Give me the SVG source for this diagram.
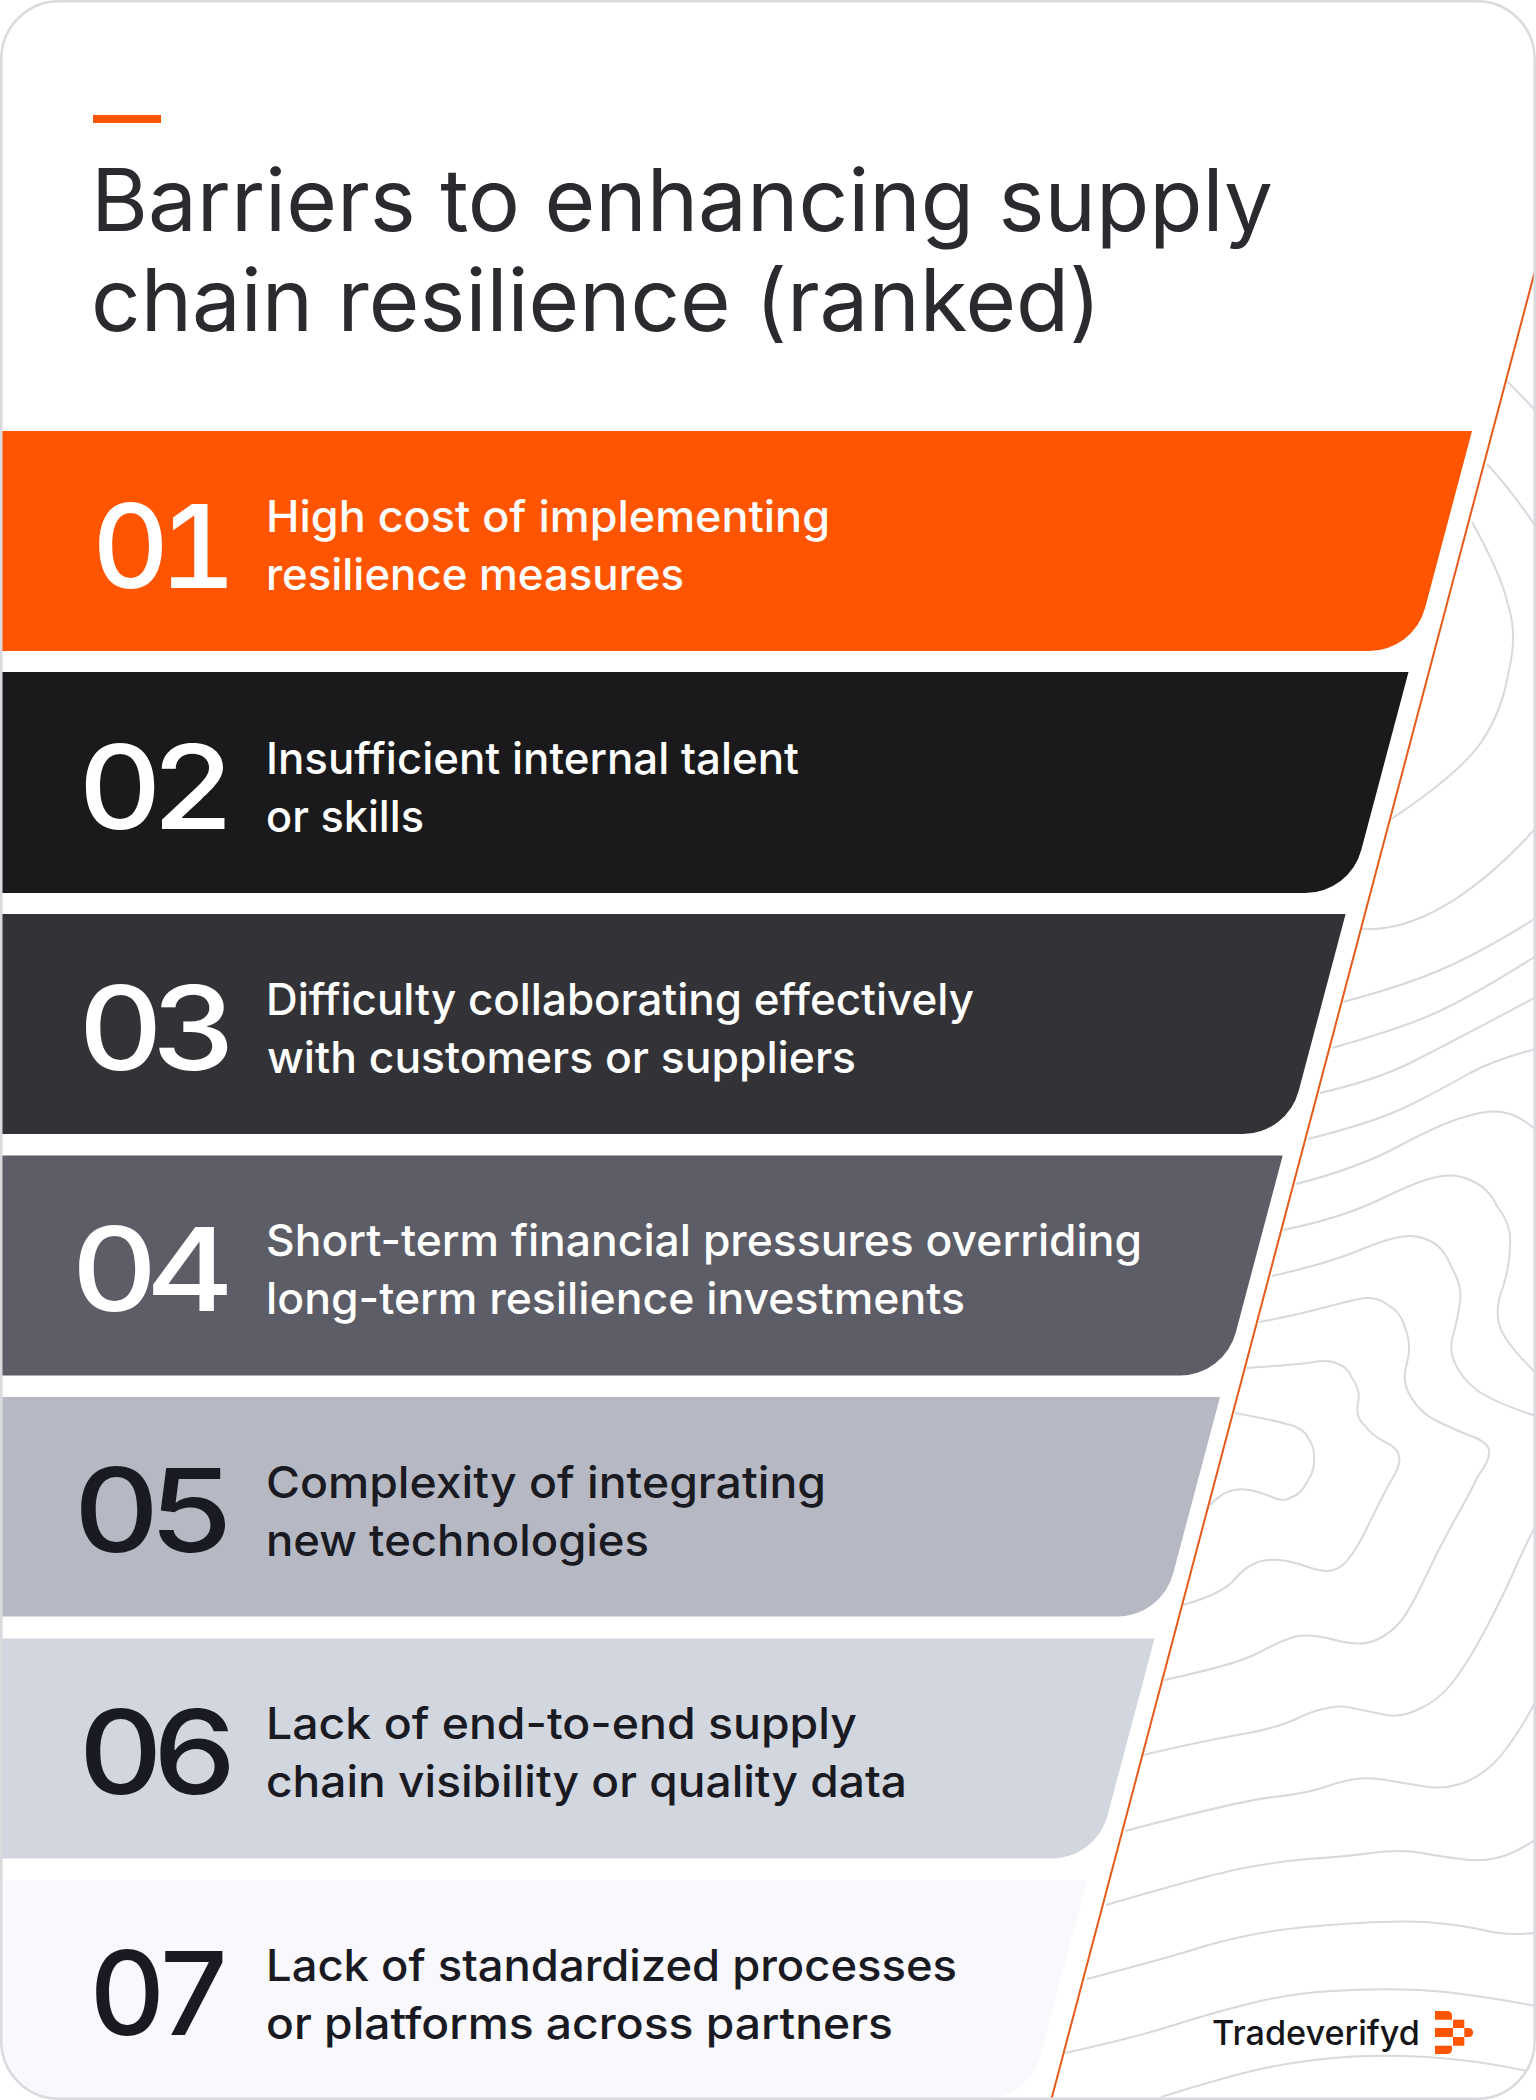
<svg xmlns="http://www.w3.org/2000/svg" width="1536" height="2100" viewBox="0 0 1536 2100">
<style>
text{font-family:Inter,"Liberation Sans",sans-serif}
.title{font-size:86px;font-weight:400;fill:#2b2a2e}
.num{font-size:116px;font-weight:450;text-anchor:end;font-feature-settings:"tnum";letter-spacing:-10px}
.body{font-size:44px;font-weight:500}
.lt{fill:#ffffff}
.dk{fill:#1a1a22}
.contour{fill:none;stroke:#d8d8de;stroke-width:2}
.logo{fill:#ff5500}
</style>
<defs>
<clipPath id="card"><rect x="1" y="1" width="1534" height="2098" rx="58" ry="58"/></clipPath>
<clipPath id="right"><polygon points="1536,267 1051.2,2100 1536,2100"/></clipPath>
</defs>
<rect x="0" y="0" width="1536" height="2100" fill="#ffffff"/>
<g clip-path="url(#card)">
<g id="contours" clip-path="url(#right)">
<path class="contour" d="M1507 381L1536 411"/>
<path class="contour" d="M1487 464Q1512 491 1536 527"/>
<path class="contour" d="M1472 522Q1502 576 1508 605Q1518 634 1508.5 672Q1502.6 710 1482 741Q1461.5 772 1391.5 819"/>
<path class="contour" d="M1362 929Q1440 933 1536 828"/>
<path class="contour" d="M1343 1002Q1410 984 1447 967Q1485 950 1536 918"/>
<path class="contour" d="M1332 1048Q1410 1026 1444 1009Q1479 992 1536 956"/>
<path class="contour" d="M1320 1093Q1376 1080 1410 1063Q1444 1046 1536 997"/>
<path class="contour" d="M1308 1139Q1376 1122 1410 1105Q1444 1088 1470 1073Q1496 1059 1536 1049"/>
<path class="contour" d="M1296 1184Q1359 1168 1401 1145Q1444 1122 1468 1116Q1492 1109 1506 1113Q1520 1116 1536 1130"/>
<path class="contour" d="M1283 1230Q1342 1218 1381 1199Q1420 1180 1437 1177Q1455 1173 1470 1180Q1488 1187 1497 1206Q1512 1225 1510 1245Q1510 1264 1503 1287Q1494 1310 1500 1327Q1506 1344 1536 1373"/>
<path class="contour" d="M1272 1276Q1325 1264 1355 1252Q1386 1239 1400 1237Q1414 1234 1428 1240Q1443 1246 1451 1266Q1463 1287 1460 1302Q1458 1317 1454 1332Q1448 1348 1455 1363Q1461 1378 1478 1391Q1496 1403 1536 1416"/>
<path class="contour" d="M1259 1322Q1297 1315 1326 1307Q1356 1299 1366 1298Q1378 1297 1388 1305Q1402 1313 1405 1328Q1412 1344 1407 1363Q1401 1382 1411 1397Q1420 1413 1437 1421Q1455 1430 1471 1436Q1490 1443 1489 1452Q1490 1460 1478 1476Q1468 1497 1453 1523Q1438 1550 1424 1580Q1410 1610 1400 1622Q1390 1634 1376 1640Q1362 1647 1335 1640Q1308 1633 1294 1637Q1280 1641 1260 1652Q1239 1664 1164 1680"/>
<path class="contour" d="M1247 1368Q1291 1365 1308 1363Q1327 1359 1336 1363Q1348 1367 1352 1378Q1361 1390 1358 1403Q1355 1417 1365 1426Q1373 1436 1385 1442Q1398 1448 1399 1456Q1402 1464 1388 1486Q1376 1509 1366 1530Q1356 1550 1349 1558Q1342 1568 1333 1570Q1325 1573 1308 1567Q1291 1561 1279 1560Q1265 1559 1256 1563Q1246 1566 1234 1580Q1222 1594 1183 1605"/>
<path class="contour" d="M1235 1413Q1273 1420 1287 1424Q1304 1428 1308 1438Q1315 1447 1314 1459Q1315 1470 1307 1482Q1301 1494 1292 1497Q1284 1503 1272 1497Q1260 1492 1250 1490Q1238 1488 1230 1491Q1222 1493 1210 1505"/>
<path class="contour" d="M1143 1755Q1212 1739 1243 1734Q1273 1729 1294 1720Q1314 1710 1328 1708Q1342 1705 1352 1708Q1362 1710 1381 1714Q1400 1719 1419 1709Q1438 1701 1453 1682Q1468 1662 1482 1636Q1496 1610 1510 1580Q1523 1550 1536 1525"/>
<path class="contour" d="M1125 1831Q1239 1801 1273 1797Q1308 1793 1325 1787Q1342 1781 1356 1779Q1369 1777 1386 1780Q1403 1783 1422 1786Q1441 1790 1460 1784Q1479 1778 1496 1761Q1513 1743 1536 1701"/>
<path class="contour" d="M1106 1905Q1205 1876 1239 1869Q1273 1862 1307 1859Q1342 1857 1371 1853Q1400 1849 1422 1853Q1444 1857 1461 1859Q1479 1862 1496 1858Q1513 1855 1536 1839"/>
<path class="contour" d="M1087 1979Q1171 1957 1205 1946Q1239 1936 1273 1931Q1308 1926 1359 1923Q1410 1920 1436 1923Q1461 1925 1483 1930Q1506 1936 1536 1933"/>
<path class="contour" d="M1065 2053Q1137 2037 1171 2026Q1205 2015 1248 2004Q1291 1993 1333 1991Q1376 1988 1419 1990Q1461 1992 1536 2006"/>
<path class="contour" d="M1161 2097Q1222 2078 1256 2070Q1291 2062 1333 2058Q1376 2054 1427 2057Q1479 2060 1536 2073"/>
</g>
<path id="divider" d="M1536 267L1051.2 2100" fill="none" stroke="#e8591a" stroke-width="2"/>
<g id="bar-01">
<path d="M2 431H1472L1425.2 607.5A58 58 0 0 1 1368.7 651H2Z" fill="#ff5500"/>
<text class="num lt" x="226" y="588" textLength="134" lengthAdjust="spacingAndGlyphs">01</text>
<text class="body lt" x="266" y="532" textLength="564" lengthAdjust="spacingAndGlyphs">High cost of implementing</text>
<text class="body lt" x="266" y="590" textLength="418" lengthAdjust="spacingAndGlyphs">resilience measures</text>
</g>
<g id="bar-02">
<path d="M2 672H1408.5L1361.4 849.5A58 58 0 0 1 1304.9 893H2Z" fill="#1a191c"/>
<text class="num lt" x="224" y="829" textLength="146" lengthAdjust="spacingAndGlyphs">02</text>
<text class="body lt" x="266" y="773.5" textLength="533" lengthAdjust="spacingAndGlyphs">Insufficient internal talent</text>
<text class="body lt" x="266" y="831.5" textLength="158" lengthAdjust="spacingAndGlyphs">or skills</text>
</g>
<g id="bar-03">
<path d="M2 914H1345.6L1298.8 1090.5A58 58 0 0 1 1242.3 1134H2Z" fill="#333236"/>
<text class="num lt" x="226" y="1070" textLength="148" lengthAdjust="spacingAndGlyphs">03</text>
<text class="body lt" x="266" y="1015" textLength="708" lengthAdjust="spacingAndGlyphs">Difficulty collaborating effectively</text>
<text class="body lt" x="267" y="1073" textLength="589" lengthAdjust="spacingAndGlyphs">with customers or suppliers</text>
</g>
<g id="bar-04">
<path d="M2 1155.5H1282.7L1235.9 1332A58 58 0 0 1 1179.4 1375.5H2Z" fill="#5c5d67"/>
<text class="num lt" x="222" y="1311" textLength="151" lengthAdjust="spacingAndGlyphs">04</text>
<text class="body lt" x="266" y="1256" textLength="876" lengthAdjust="spacingAndGlyphs">Short-term financial pressures overriding</text>
<text class="body lt" x="266" y="1314" textLength="699" lengthAdjust="spacingAndGlyphs">long-term resilience investments</text>
</g>
<g id="bar-05">
<path d="M2 1397H1220L1173.3 1573A58 58 0 0 1 1116.8 1616.5H2Z" fill="#b6b9c4"/>
<text class="num dk" x="224" y="1552" textLength="151" lengthAdjust="spacingAndGlyphs">05</text>
<text class="body dk" x="266" y="1497.5" textLength="560" lengthAdjust="spacingAndGlyphs">Complexity of integrating</text>
<text class="body dk" x="266" y="1555.5" textLength="383" lengthAdjust="spacingAndGlyphs">new technologies</text>
</g>
<g id="bar-06">
<path d="M0 1638.5H1154.5L1107.7 1815A58 58 0 0 1 1051.2 1858.5H0Z" fill="#d2d6de"/>
<text class="num dk" x="226" y="1794" textLength="148" lengthAdjust="spacingAndGlyphs">06</text>
<text class="body dk" x="266" y="1739" textLength="591" lengthAdjust="spacingAndGlyphs">Lack of end-to-end supply</text>
<text class="body dk" x="266" y="1797" textLength="641" lengthAdjust="spacingAndGlyphs">chain visibility or quality data</text>
</g>
<g id="bar-07">
<path d="M0 1880H1087L1040.5 2055A58 58 0 0 1 984 2098.5H0Z" fill="#f8f8fd"/>
<text class="num dk" x="222" y="2035" textLength="133" lengthAdjust="spacingAndGlyphs">07</text>
<text class="body dk" x="266" y="1980.5" textLength="691" lengthAdjust="spacingAndGlyphs">Lack of standardized processes</text>
<text class="body dk" x="266" y="2038.5" textLength="627" lengthAdjust="spacingAndGlyphs">or platforms across partners</text>
</g>
</g>
<g id="heading">
<rect x="93" y="115" width="68" height="8" fill="#ff5500"/>
<text class="title" x="91" y="231" textLength="1182" lengthAdjust="spacingAndGlyphs">Barriers to enhancing supply</text>
<text class="title" x="91" y="331" textLength="1010" lengthAdjust="spacingAndGlyphs">chain resilience (ranked)</text>
</g>
<g id="brand">
<text x="1212" y="2045" font-size="33.5" font-weight="500" fill="#16161a" textLength="208" lengthAdjust="spacingAndGlyphs">Tradeverifyd</text>
<path class="logo" d="M1435 2011H1447Q1452 2011 1452 2016V2019.7H1435Z"/>
<rect class="logo" x="1453" y="2019.7" width="11.3" height="8.3"/>
<rect class="logo" x="1435" y="2028" width="18" height="9"/>
<path class="logo" d="M1464.3 2028H1468.5Q1473 2028 1473 2032.5Q1473 2037 1468.5 2037H1464.3Z"/>
<rect class="logo" x="1453" y="2037" width="11.3" height="8.7"/>
<path class="logo" d="M1435 2045.7H1452V2049Q1452 2054 1447 2054H1435Z"/>
</g>
<rect id="frame" x="1.25" y="1.25" width="1533.5" height="2097.5" rx="58" ry="58" fill="none" stroke="#d9dade" stroke-width="2.5"/>
</svg>
